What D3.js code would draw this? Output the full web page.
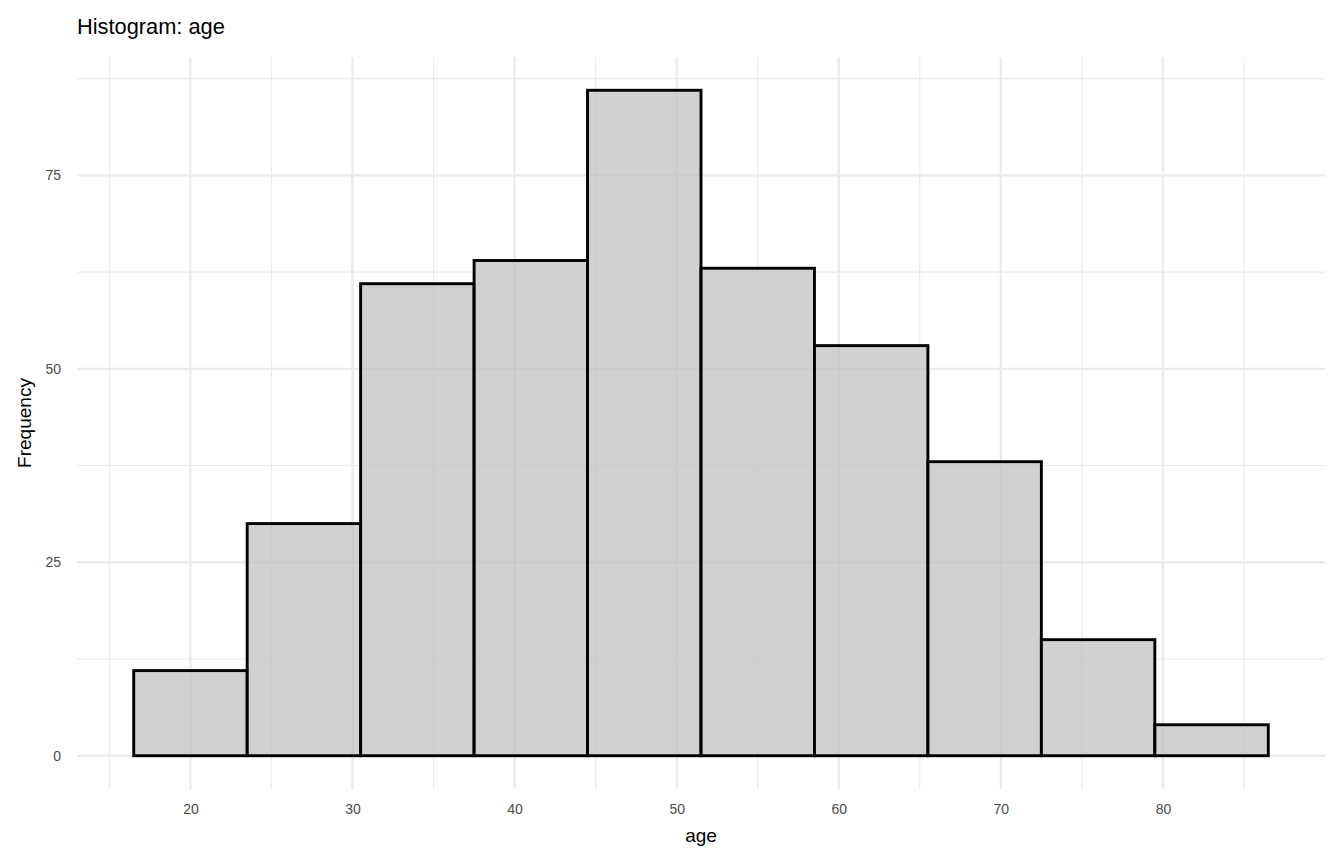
<!DOCTYPE html>
<html>
<head>
<meta charset="utf-8">
<script src="https://cdn.jsdelivr.net/npm/d3@7"></script>
<style>
  body { margin: 0; background: #fff; }
  svg { display: block; font-family: "Liberation Sans", Arial, sans-serif; }
</style>
</head>
<body>
<div id="chart"></div>
<script>
// bin edges (binwidth 7) and counts
const binStarts = [16.5, 23.5, 30.5, 37.5, 44.5, 51.5, 58.5, 65.5, 72.5, 79.5];
const binWidth = 7;
const counts = [11, 30, 61, 64, 86, 63, 53, 38, 15, 4];
const xTicks = [20, 30, 40, 50, 60, 70, 80];
const xMinor = [15, 25, 35, 45, 55, 65, 75, 85];
const yTicks = [0, 25, 50, 75];
const yMinor = [12.5, 37.5, 62.5, 87.5];

const width = 1344, height = 864;
const panel = { left: 77, right: 1325, top: 57, bottom: 789 };

const svg = d3.select("#chart").append("svg")
    .attr("width", width)
    .attr("height", height);

// ggplot style 5% expansion on both axes
const x = d3.scaleLinear().domain([13, 90]).range([panel.left, panel.right]);
const y = d3.scaleLinear().domain([-4.3, 90.3]).range([panel.bottom, panel.top]);

const grid = svg.append("g");

// minor grid lines
grid.selectAll(".xminor").data(xMinor).enter().append("line")
    .attr("x1", d => x(d)).attr("x2", d => x(d))
    .attr("y1", panel.top).attr("y2", panel.bottom)
    .attr("stroke", "#ebebeb").attr("stroke-width", 1.1);
grid.selectAll(".yminor").data(yMinor).enter().append("line")
    .attr("x1", panel.left).attr("x2", panel.right)
    .attr("y1", d => y(d)).attr("y2", d => y(d))
    .attr("stroke", "#ebebeb").attr("stroke-width", 1.1);

// major grid lines
grid.selectAll(".xmajor").data(xTicks).enter().append("line")
    .attr("x1", d => x(d)).attr("x2", d => x(d))
    .attr("y1", panel.top).attr("y2", panel.bottom)
    .attr("stroke", "#ebebeb").attr("stroke-width", 2.4);
grid.selectAll(".ymajor").data(yTicks).enter().append("line")
    .attr("x1", panel.left).attr("x2", panel.right)
    .attr("y1", d => y(d)).attr("y2", d => y(d))
    .attr("stroke", "#ebebeb").attr("stroke-width", 2.4);

// bars
svg.append("g").selectAll("rect")
    .data(binStarts.map((s, i) => ({ x0: s, x1: s + binWidth, n: counts[i] })))
    .enter().append("rect")
    .attr("x", d => x(d.x0))
    .attr("width", d => x(d.x1) - x(d.x0))
    .attr("y", d => y(d.n))
    .attr("height", d => y(0) - y(d.n))
    .attr("fill", "#bebebe")
    .attr("fill-opacity", 0.7)
    .attr("stroke", "#000")
    .attr("stroke-width", 2.9);

// axes (text only, like theme_minimal)
const xAxis = svg.append("g")
    .attr("transform", `translate(0,${panel.bottom})`)
    .call(d3.axisBottom(x).tickValues(xTicks).tickSize(0).tickPadding(15));
const yAxis = svg.append("g")
    .attr("transform", `translate(${panel.left},0)`)
    .call(d3.axisLeft(y).tickValues(yTicks).tickSize(0).tickPadding(16));
[xAxis, yAxis].forEach(a => {
    a.select(".domain").remove();
    a.selectAll("text")
        .attr("fill", "#4d4d4d")
        .style("font-size", "14px")
        .style("font-family", "'Liberation Sans', Arial, sans-serif");
});

// titles
svg.append("text")
    .attr("x", panel.left).attr("y", 34)
    .attr("font-size", 21.8).attr("fill", "#000")
    .text("Histogram: age");

svg.append("text")
    .attr("x", (panel.left + panel.right) / 2).attr("y", 842)
    .attr("text-anchor", "middle")
    .attr("font-size", 19).attr("fill", "#000")
    .text("age");

svg.append("text")
    .attr("transform", `translate(31,${(panel.top + panel.bottom) / 2}) rotate(-90)`)
    .attr("text-anchor", "middle")
    .attr("font-size", 19).attr("fill", "#000")
    .text("Frequency");
</script>
</body>
</html>
